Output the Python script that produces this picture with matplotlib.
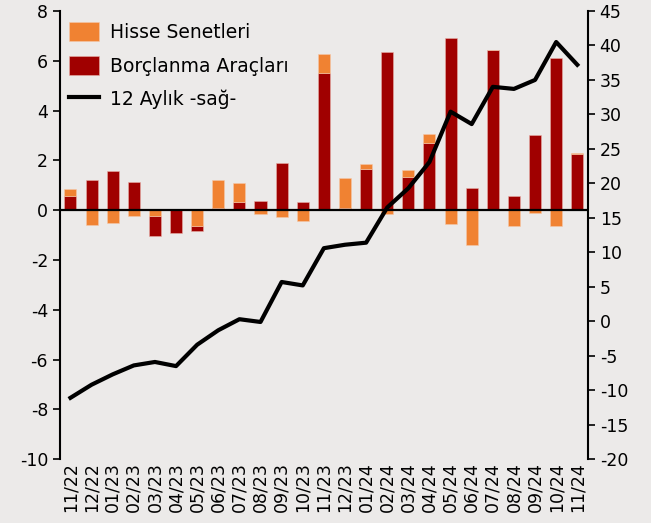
import numpy as np
import matplotlib.pyplot as plt

# monthly data, left axis: flows; right axis: 12-month cumulative
months = ["11/22", "12/22", "01/23", "02/23", "03/23", "04/23", "05/23", "06/23",
          "07/23", "08/23", "09/23", "10/23", "11/23", "12/23", "01/24", "02/24",
          "03/24", "04/24", "05/24", "06/24", "07/24", "08/24", "09/24", "10/24", "11/24"]
hisse = [0.30, -0.60, -0.52, -0.22, -0.25, 0.00, -0.65, 1.10, 0.75, -0.15, -0.29, -0.42,
         0.75, 1.20, 0.20, -0.15, 0.25, 0.35, -0.56, -1.40, 0.00, -0.65, -0.10, -0.65, 0.04]
borc = [0.55, 1.22, 1.59, 1.15, -0.80, -0.90, -0.18, 0.10, 0.33, 0.38, 1.89, 0.31,
        5.52, 0.10, 1.67, 6.36, 1.35, 2.70, 6.93, 0.90, 6.44, 0.58, 3.03, 6.11, 2.27]
aylik12 = [-11.1, -9.2, -7.7, -6.4, -5.9, -6.5, -3.4, -1.3, 0.3, -0.1, 5.7, 5.2,
           10.6, 11.1, 11.4, 16.5, 19.3, 23.1, 30.4, 28.6, 34.0, 33.7, 35.0, 40.5, 37.2]

h = np.array(hisse)
b = np.array(borc)
x = np.arange(len(months))

# positive parts: debt first then equity; negatives: equity near zero, debt below
b_bottom = np.where((b < 0) & (h < 0), h, 0.0)
h_bottom = np.where((h >= 0) & (b > 0), b, 0.0)

plt.rcParams['font.family'] = 'DejaVu Sans'
plt.rcParams['axes.unicode_minus'] = False
bg = '#ECEAE9'

fig = plt.figure(figsize=(6.51, 5.23), dpi=100, facecolor=bg)
ax = fig.add_axes([0.092, 0.122, 0.811, 0.857])
ax.set_facecolor(bg)

w = 0.57
ax.bar(x, b, w, bottom=b_bottom, color='#A00000', edgecolor='#E8B0A8', linewidth=0.4,
       label='Borçlanma Araçları', zorder=2)
ax.bar(x, h, w, bottom=h_bottom, color='#F08232', edgecolor='#F5C8A8', linewidth=0.4,
       label='Hisse Senetleri', zorder=2)
ax.axhline(0, color='black', lw=1.6, zorder=3)

ax.set_xlim(-0.5, len(months) - 0.5)
ax.set_ylim(-10, 8)
ax.set_yticks(np.arange(-10, 9, 2))
ax.set_xticks(x)
ax.set_xticklabels(months, rotation=90, fontsize=12.5)
ax.tick_params(axis='x', length=0, pad=2)
ax.tick_params(axis='y', labelsize=12.5, direction='out', length=5, width=1.2)
for s in ['top', 'right', 'bottom']:
    ax.spines[s].set_visible(False)
ax.spines['left'].set_linewidth(1.5)

ax2 = ax.twinx()
ln, = ax2.plot(x, aylik12, color='black', lw=3, label='12 Aylık -sağ-', zorder=4)
ax2.set_ylim(-20, 45)
ax2.set_yticks(np.arange(-20, 46, 5))
ax2.tick_params(axis='y', labelsize=12.5, direction='out', length=5, width=1.2)
for s in ['top', 'left', 'bottom']:
    ax2.spines[s].set_visible(False)
ax2.spines['right'].set_linewidth(1.5)

handles, labels = ax.get_legend_handles_labels()
leg = ax2.legend([handles[1], handles[0], ln], [labels[1], labels[0], '12 Aylık -sağ-'],
                 loc='upper left', bbox_to_anchor=(0.017, 0.975), frameon=False,
                 borderaxespad=0, borderpad=0,
                 fontsize=13.5, handlelength=1.6, handleheight=1.2, labelspacing=0.72,
                 handletextpad=0.6)
leg.set_zorder(5)

fig.savefig('out.png', dpi=100, facecolor=bg)
